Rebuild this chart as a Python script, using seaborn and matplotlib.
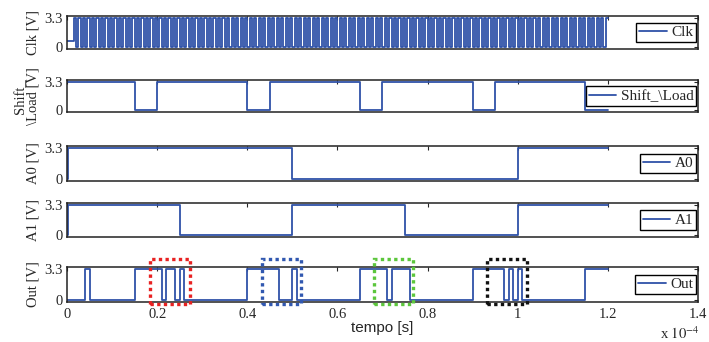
import numpy as np
import pandas as pd
import matplotlib
matplotlib.use('Agg')
import matplotlib.pyplot as plt
import seaborn as sns
from matplotlib.patches import Rectangle

# tempi in unita' di 1e-4 s
clk_t0 = [0.0, 0.015]
clk_v0 = [0.7, 3.3]
clk_period = 0.01
clk_end = 1.2

shift_t = [0, 0.15, 0.20, 0.40, 0.45, 0.65, 0.70, 0.90, 0.95, 1.15, 1.20]
shift_v = [3.3, 0, 3.3, 0, 3.3, 0, 3.3, 0, 3.3, 0, 0]

a0_t = [0, 0.002, 0.5, 1.0, 1.2]
a0_v = [0, 3.3, 0, 3.3, 3.3]

a1_t = [0, 0.002, 0.25, 0.5, 0.75, 1.0, 1.2]
a1_v = [0, 3.3, 0, 3.3, 0, 3.3, 3.3]

out_t = [0, 0.04, 0.05, 0.15, 0.21, 0.22, 0.24, 0.25, 0.26, 0.40, 0.47, 0.50, 0.51,
         0.65, 0.71, 0.72, 0.76, 0.90, 0.97, 0.98, 0.99, 1.00, 1.01, 1.15, 1.20]
out_v = [0, 3.3, 0, 3.3, 0, 3.3, 0, 3.3, 0, 3.3, 0, 3.3, 0,
         3.3, 0, 3.3, 0, 3.3, 0, 3.3, 0, 3.3, 0, 3.3, 3.3]

# finestre evidenziate sul segnale Out
box_x0 = [0.184, 0.432, 0.681, 0.932]
box_x1 = [0.274, 0.520, 0.768, 1.020]
box_col = ['#e82222', '#3158b0', '#5cc63c', '#111111']

# clock: fronti ogni mezzo periodo
edges = np.arange(clk_t0[1] + clk_period / 2, clk_end, clk_period / 2)
clk_t = clk_t0 + list(edges) + [clk_end]
clk_v = clk_v0 + [0 if i % 2 == 0 else 3.3 for i in range(len(edges))]
clk_v = clk_v + [clk_v[-1]]

signals = [
    ('Clk', 'Clk [V]', clk_t, clk_v),
    ('Shift_\\Load', 'Shift_\n\\Load [V]', shift_t, shift_v),
    ('A0', 'A0 [V]', a0_t, a0_v),
    ('A1', 'A1 [V]', a1_t, a1_v),
    ('Out', 'Out [V]', out_t, out_v),
]

sns.set_style('white')
plt.rcParams['font.family'] = ['Liberation Serif', 'DejaVu Serif']
plt.rcParams['mathtext.fontset'] = 'stix'

blue = '#2f52a8'
W, H = 709, 342
fig = plt.figure(figsize=(W / 100, H / 100), dpi=100)

# posizione pannelli (pixel dall'alto)
panels = [(16, 49), (80, 112), (146, 181), (203, 237), (267, 302)]
left, right = 67, 698

axes = []
for (top, bot), (name, ylab, t, v) in zip(panels, signals):
    ax = fig.add_axes([left / W, 1 - bot / H, (right - left) / W, (bot - top) / H])
    df = pd.DataFrame({'t': t, 'v': v})
    sns.lineplot(data=df, x='t', y='v', ax=ax, drawstyle='steps-post',
                 estimator=None, sort=False, color=blue, lw=1.3, label=name)
    ax.set_xlim(0, 1.4)
    ax.set_ylim(-0.2, 3.5)
    ax.set_xticks(np.arange(0, 1.41, 0.2))
    ax.set_yticks([0, 3.3])
    ax.set_yticklabels(['0', '3.3'])
    ax.tick_params(direction='in', top=True, right=True, length=3, width=0.8,
                   labelsize=10.5, pad=3)
    ax.set_xlabel('')
    ax.set_ylabel(ylab, fontsize=10.5, linespacing=0.95)
    ax.yaxis.set_label_coords(-0.043, 0.5)
    for s in ax.spines.values():
        s.set_linewidth(1.1)
        s.set_color('#222222')
    leg = ax.legend(loc='center right', fontsize=11, fancybox=False, edgecolor='black',
                    framealpha=1, borderpad=0.2, handlelength=1.8, handletextpad=0.3,
                    borderaxespad=0.1)
    leg.get_frame().set_linewidth(1.0)
    axes.append(ax)

for ax in axes[:-1]:
    ax.set_xticklabels([])

ax_out = axes[-1]
ax_out.set_xticklabels([f'{x:g}' for x in np.arange(0, 1.41, 0.2)])
ax_out.tick_params(axis='x', pad=4)

for x0, x1, c in zip(box_x0, box_x1, box_col):
    ax_out.add_patch(Rectangle((x0, -0.4), x1 - x0, 4.7, fill=False, edgecolor=c,
                               lw=2.4, linestyle=(0, (1, 1)), clip_on=False, zorder=5))

fig.text(382 / W, 1 - 328 / H, 'tempo [s]', family='Liberation Sans', fontsize=11,
         ha='center', va='center')
fig.text(660 / W, 1 - 339 / H, r'x $10^{-4}$', fontsize=10.5, ha='left', va='baseline')

fig.savefig('out.png', dpi=100)
